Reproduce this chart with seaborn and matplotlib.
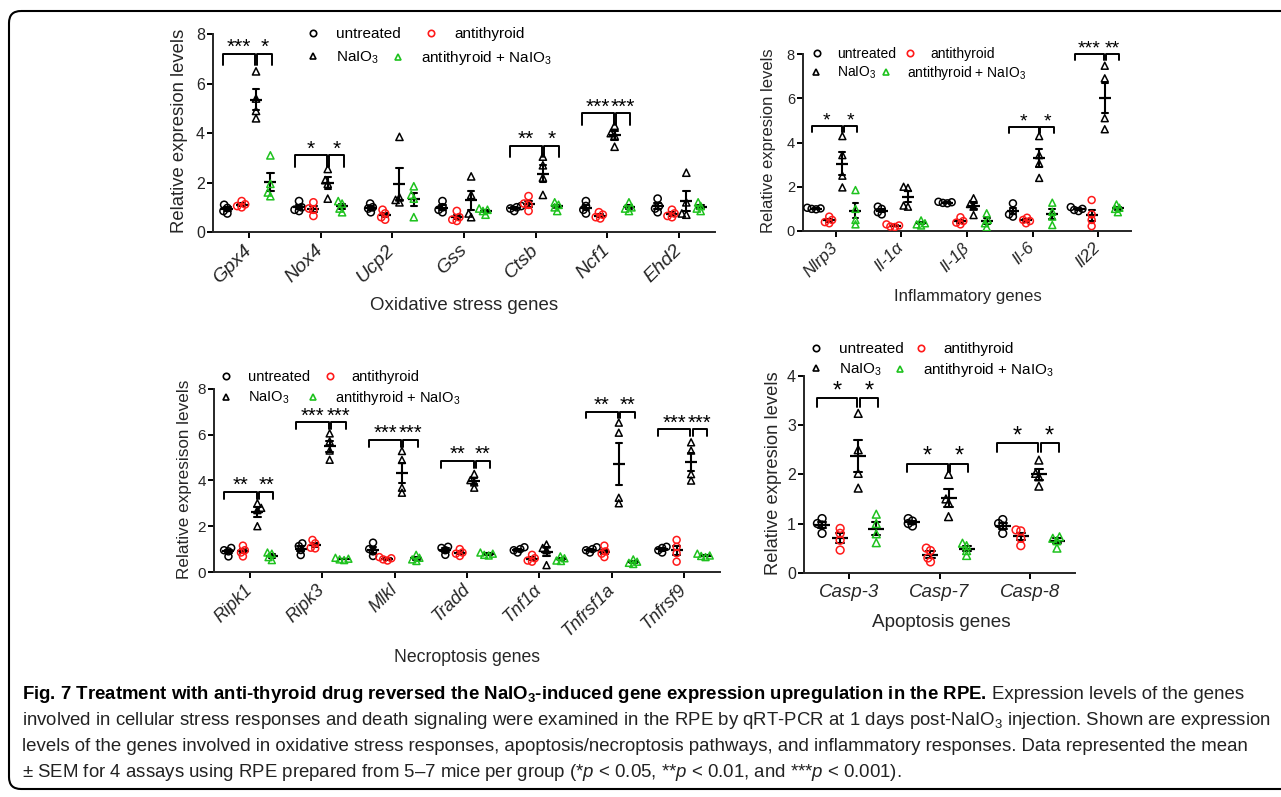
import numpy as np
import pandas as pd
import seaborn as sns
import matplotlib.pyplot as plt
from matplotlib.lines import Line2D
from matplotlib.patches import FancyBboxPatch
from matplotlib.transforms import Affine2D

# ===============================
# Data (4 assays per group)
# ===============================
groups = ['untreated', 'antithyroid', 'NaIO3', 'antithyroid + NaIO3']
group_labels = ['untreated', 'antithyroid', r'NaIO$_3$', r'antithyroid + NaIO$_3$']
group_colors = ['#000000', '#ff1a1a', '#000000', '#1ec21e']
group_markers = ['o', 'o', '^', '^']

# Oxidative stress genes
ox_genes = ['Gpx4', 'Nox4', 'Ucp2', 'Gss', 'Ctsb', 'Ncf1', 'Ehd2']
ox_untreated = [[1.10, 0.97, 0.85, 0.75], [1.25, 1.00, 0.90, 0.85], [1.15, 1.00, 0.95, 0.80],
                [1.25, 1.00, 0.90, 0.80], [1.00, 1.05, 0.95, 0.85], [1.25, 1.05, 0.90, 0.75],
                [1.35, 1.05, 0.95, 0.80]]
ox_antithyroid = [[1.25, 1.12, 1.00, 1.05], [1.20, 0.95, 0.90, 0.65], [0.90, 0.75, 0.60, 0.50],
                  [0.85, 0.60, 0.50, 0.45], [1.45, 1.15, 1.10, 0.85], [0.80, 0.70, 0.60, 0.55],
                  [0.90, 0.75, 0.65, 0.60]]
ox_naio3 = [[6.50, 5.40, 4.90, 4.60], [2.55, 2.10, 1.95, 1.35], [3.85, 1.40, 1.30, 1.20],
            [2.25, 1.50, 0.75, 0.60], [3.05, 2.70, 2.20, 1.50], [4.30, 4.00, 3.90, 3.45],
            [2.40, 1.20, 0.75, 0.70]]
ox_combo = [[3.10, 1.95, 1.60, 1.45], [1.25, 1.15, 0.95, 0.80], [1.85, 1.50, 1.35, 0.60],
            [0.95, 0.90, 0.85, 0.70], [1.20, 1.10, 1.00, 0.85], [1.20, 1.00, 0.95, 0.85],
            [1.20, 1.05, 0.95, 0.85]]
ox_sig = [(0, 7.2, '***', '*'), (1, 3.1, '*', '*'), (4, 3.5, '**', '*'), (5, 4.8, '***', '***')]

# Inflammatory genes
inf_genes = ['Nlrp3', 'Il-1α', 'Il-1β', 'Il-6', 'Il22']
inf_untreated = [[1.05, 1.02, 1.00, 0.98], [1.10, 1.00, 0.85, 0.75], [1.32, 1.30, 1.27, 1.25],
                 [1.25, 0.90, 0.75, 0.65], [1.08, 1.00, 0.95, 0.90]]
inf_antithyroid = [[0.65, 0.50, 0.40, 0.35], [0.30, 0.25, 0.20, 0.18], [0.62, 0.45, 0.38, 0.30],
                   [0.60, 0.50, 0.45, 0.35], [1.40, 0.75, 0.50, 0.22]]
inf_naio3 = [[4.29, 3.43, 2.50, 1.97], [2.00, 1.95, 1.15, 1.10], [1.48, 1.22, 1.10, 0.72],
             [4.29, 3.43, 3.05, 2.40], [7.47, 6.90, 5.10, 4.60]]
inf_combo = [[1.85, 1.00, 0.50, 0.30], [0.48, 0.35, 0.30, 0.25], [0.80, 0.50, 0.35, 0.17],
             [1.28, 0.87, 0.65, 0.27], [1.20, 1.05, 1.00, 0.85]]
inf_sig = [(0, 4.74, '*', '*'), (3, 4.70, '*', '*'), (4, 8.0, '***', '**')]

# Necroptosis genes
nec_genes = ['Ripk1', 'Ripk3', 'Mlkl', 'Tradd', 'Tnf1α', 'Tnfrsf1a', 'Tnfrsf9']
nec_untreated = [[1.05, 0.95, 0.90, 0.68], [1.25, 1.13, 0.96, 0.74], [1.28, 1.00, 0.90, 0.70],
                 [1.10, 1.05, 0.95, 0.75], [1.08, 1.00, 0.95, 0.85], [1.08, 1.00, 0.95, 0.85],
                 [1.10, 1.05, 0.95, 0.85]]
nec_antithyroid = [[1.15, 0.95, 0.85, 0.68], [1.40, 1.25, 1.06, 1.03], [0.65, 0.60, 0.55, 0.50],
                   [1.00, 0.85, 0.80, 0.70], [0.75, 0.60, 0.50, 0.45], [1.15, 0.90, 0.80, 0.65],
                   [1.40, 1.10, 0.82, 0.45]]
nec_naio3 = [[3.00, 2.80, 2.70, 2.00], [6.05, 5.70, 5.30, 4.90], [5.28, 4.89, 3.68, 3.46],
             [4.28, 4.01, 3.91, 3.68], [1.20, 1.05, 0.95, 0.30], [6.52, 6.08, 3.24, 3.00],
             [5.66, 5.30, 4.27, 3.99]]
nec_combo = [[0.85, 0.80, 0.65, 0.52], [0.62, 0.58, 0.55, 0.52], [0.75, 0.62, 0.55, 0.48],
             [0.85, 0.80, 0.75, 0.72], [0.68, 0.60, 0.50, 0.48], [0.55, 0.45, 0.40, 0.35],
             [0.80, 0.72, 0.70, 0.65]]
nec_sig = [(0, 3.5, '**', '**'), (1, 6.53, '***', '***'), (2, 5.76, '***', '***'),
           (3, 4.86, '**', '**'), (5, 7.0, '**', '**'), (6, 6.23, '***', '***')]

# Apoptosis genes
apo_genes = ['Casp-3', 'Casp-7', 'Casp-8']
apo_untreated = [[1.10, 1.00, 0.97, 0.80], [1.10, 1.05, 1.00, 0.95], [1.08, 1.00, 0.95, 0.80]]
apo_antithyroid = [[0.90, 0.80, 0.66, 0.46], [0.50, 0.45, 0.30, 0.22], [0.87, 0.85, 0.70, 0.55]]
apo_naio3 = [[3.24, 2.50, 2.02, 1.72], [2.00, 1.50, 1.42, 1.14], [2.29, 2.02, 1.95, 1.76]]
apo_combo = [[1.19, 1.00, 0.79, 0.61], [0.60, 0.55, 0.45, 0.35], [0.73, 0.70, 0.65, 0.50]]
apo_sig = [(0, 3.55, '*', '*'), (1, 2.22, '*', '*'), (2, 2.63, '*', '*')]

caption_bold = r'Fig. 7 Treatment with anti-thyroid drug reversed the NaIO$_\mathbf{3}$-induced gene expression upregulation in the RPE.'
caption_lines = [
    'Expression levels of the genes',
    r'involved in cellular stress responses and death signaling were examined in the RPE by qRT-PCR at 1 days post-NaIO$_3$ injection. Shown are expression',
    'levels of the genes involved in oxidative stress responses, apoptosis/necroptosis pathways, and inflammatory responses. Data represented the mean',
    r'± SEM for 4 assays using RPE prepared from 5–7 mice per group (*$p$ < 0.05, **$p$ < 0.01, and ***$p$ < 0.001).',
]

# ===============================
# Style
# ===============================
sns.set_style('ticks')
plt.rcParams['font.family'] = ['Liberation Sans', 'DejaVu Sans']
plt.rcParams['mathtext.fontset'] = 'custom'
plt.rcParams['mathtext.rm'] = 'Liberation Sans'
plt.rcParams['mathtext.it'] = 'Liberation Sans:italic'
plt.rcParams['mathtext.bf'] = 'Liberation Sans:bold'
plt.rcParams['axes.linewidth'] = 1.4
plt.rcParams['text.color'] = 'black'

W, H = 1281, 797
fig = plt.figure(figsize=(W / 100, H / 100), dpi=100)
fig.patch.set_facecolor('white')
# pixel coordinates measured from the top-left corner
px = Affine2D().scale(1 / W, -1 / H).translate(0, 1) + fig.transFigure

palette = dict(zip(groups, group_colors))
black = {g: 'black' for g in groups}
swarm_sets = []  # (collection, final marker size) to enlarge after the swarm is laid out


def long_df(genes, series):
    rows = []
    for grp, vals in zip(groups, series):
        for gene, pts in zip(genes, vals):
            for v in pts:
                rows.append((gene, grp, v))
    return pd.DataFrame(rows, columns=['gene', 'group', 'value'])


def draw_panel(p):
    x0, y0, x1, y1 = p['box']
    ax = fig.add_axes([x0 / W, 1 - y1 / H, (x1 - x0) / W, (y1 - y0) / H])
    genes = p['genes']
    df = long_df(genes, p['series'])

    # open circles / open triangles; swarm is computed with small markers so the
    # points overlap a little, like the original dot plot
    for grp_set, marker in ((groups[:2], 'o'), (groups[2:], '^')):
        n0 = len(ax.collections)
        sns.swarmplot(data=df[df['group'].isin(grp_set)], x='gene', y='value', hue='group',
                      order=genes, hue_order=groups, palette=palette, dodge=True,
                      marker=marker, size=p['ms'] * 0.4, linewidth=1.1, legend=False,
                      warn_thresh=1, ax=ax)
        for c in ax.collections[n0:]:
            fc = c.get_facecolors()
            if len(fc):
                c.set_edgecolors(fc)
                c.set_facecolors('none')
                swarm_sets.append((c, p['ms']))

    # mean +/- SEM
    sns.pointplot(data=df, x='gene', y='value', hue='group', order=genes, hue_order=groups,
                  palette=black, dodge=0.6, errorbar='se', capsize=0.09,
                  marker='_', linestyle='none', markersize=p['mean_ms'],
                  markeredgewidth=1.6, err_kws={'linewidth': 1.5}, legend=False, ax=ax)

    # significance brackets
    for i, y, lab1, lab2 in p['sig']:
        for (a, b), lab in (((i - 0.36, i + 0.09), lab1), ((i + 0.12, i + 0.32), lab2)):
            ax.plot([a, a, b, b], [y - p['leg'], y, y, y - p['leg']], color='black',
                    lw=1.4, clip_on=False)
            ax.annotate(lab, ((a + b) / 2, y), xytext=(0, 0.6), textcoords='offset points',
                        ha='center', va='baseline', fontsize=p['star_fs'],
                        annotation_clip=False)

    ax.set_xlim(-0.5, len(genes) - 0.5)
    ax.set_ylim(0, p['ymax'])
    ax.set_yticks(np.arange(0, p['ymax'] + 0.01, p['ystep']))
    ax.set_xticks(range(len(genes)))
    if p['rot']:
        ax.set_xticklabels(genes, rotation=p['rot'], ha='right', va='center',
                           rotation_mode='anchor', style='italic', fontsize=p['xtick_fs'])
    else:
        ax.set_xticklabels(genes, style='italic', fontsize=p['xtick_fs'])
    sns.despine(ax=ax)
    ax.tick_params(axis='both', width=1.4, length=4.3, color='black')
    ax.tick_params(axis='y', labelsize=p['ytick_fs'], pad=1.5)
    ax.tick_params(axis='x', pad=p['xpad'])

    ax.set_xlabel(p['xlabel'], fontsize=p['xlabel_fs'], va='center')
    ax.xaxis.set_label_coords(*p['xlabel_xy'], transform=px)
    ax.set_ylabel(p['ylabel'], fontsize=p['ylabel_fs'], va='center')
    ax.yaxis.set_label_coords(*p['ylabel_xy'], transform=px)

    # legend: one entry per slot, as laid out in the figure
    fs_px = p['leg_fs'] * 100 / 72
    entries = list(zip(group_labels, group_colors, group_markers, p['leg_xy']))
    for k, (lab, col, mk, (lx, ly)) in enumerate(entries):
        h = Line2D([], [], ls='none', marker=mk, mfc='none', mec=col, mew=1.2, ms=4.6)
        leg = ax.legend([h], [lab], loc='center left', bbox_to_anchor=(lx - 0.3 * fs_px, ly),
                        bbox_transform=px, frameon=False, fontsize=p['leg_fs'],
                        handlelength=0.6, handletextpad=1.2, borderpad=0, borderaxespad=0)
        if k < len(entries) - 1:
            ax.add_artist(leg)
    return ax


panels = [
    dict(genes=ox_genes, series=[ox_untreated, ox_antithyroid, ox_naio3, ox_combo], sig=ox_sig,
         box=(213, 34.3, 715, 232), ymax=8, ystep=2, rot=45, leg=0.45,
         xlabel='Oxidative stress genes', xlabel_xy=(464, 306), xlabel_fs=13.4,
         ylabel='Relative expresion levels', ylabel_xy=(180, 131), ylabel_fs=13.3,
         xtick_fs=14, ytick_fs=11.5, xpad=7, ms=5.2, mean_ms=9, star_fs=15, leg_fs=11,
         leg_xy=[(313, 34.3), (431, 34.3), (313, 58), (398, 58)]),
    dict(genes=inf_genes, series=[inf_untreated, inf_antithyroid, inf_naio3, inf_combo], sig=inf_sig,
         box=(803, 54, 1131, 231), ymax=8, ystep=2, rot=45, leg=0.25,
         xlabel='Inflammatory genes', xlabel_xy=(968, 297), xlabel_fs=12.1,
         ylabel='Relative expresion levels', ylabel_xy=(768, 141), ylabel_fs=12,
         xtick_fs=12.4, ytick_fs=10.5, xpad=6, ms=5, mean_ms=9, star_fs=14, leg_fs=10,
         leg_xy=[(816.7, 54), (910, 54), (816, 72.7), (885.7, 72.7)]),
    dict(genes=nec_genes, series=[nec_untreated, nec_antithyroid, nec_naio3, nec_combo], sig=nec_sig,
         box=(214, 388.7, 720, 572), ymax=8, ystep=2, rot=45, leg=0.3,
         xlabel='Necroptosis genes', xlabel_xy=(467, 658), xlabel_fs=12.7,
         ylabel='Relative expresison levels', ylabel_xy=(185, 479), ylabel_fs=12.3,
         xtick_fs=13, ytick_fs=11, xpad=6.5, ms=5, mean_ms=9, star_fs=14.5, leg_fs=10.5,
         leg_xy=[(225.7, 376.7), (330, 376.7), (225.7, 398.3), (312.7, 398.3)]),
    dict(genes=apo_genes, series=[apo_untreated, apo_antithyroid, apo_naio3, apo_combo], sig=apo_sig,
         box=(804, 376, 1075, 572.7), ymax=4, ystep=1, rot=0, leg=0.18,
         xlabel='Apoptosis genes', xlabel_xy=(941, 623), xlabel_fs=13.6,
         ylabel='Relative expresion levels', ylabel_xy=(773, 473), ylabel_fs=13.2,
         xtick_fs=13.5, ytick_fs=11.5, xpad=3.5, ms=5.6, mean_ms=11, star_fs=17, leg_fs=11,
         leg_xy=[(815.7, 349.3), (920.7, 349.3), (815.7, 370), (900, 370)]),
]

for p in panels:
    draw_panel(p)

# lay the swarms out once, then freeze positions and use the full marker size
fig.canvas.draw()
for c, ms in swarm_sets:
    if 'draw' in c.__dict__:
        del c.draw
    c.set_sizes([ms ** 2])

# ===============================
# Caption
# ===============================
renderer = fig.canvas.get_renderer()
cap_fs = 12
probe = fig.text(22, 725, caption_lines[1], transform=px, fontsize=cap_fs, va='baseline',
                 color='#222222')
cap_fs = cap_fs * 1250 / probe.get_window_extent(renderer).width
probe.set_fontsize(cap_fs)

bold = fig.text(22, 699, caption_bold, transform=px, fontsize=cap_fs, fontweight='bold',
                va='baseline', color='black')
bx1 = bold.get_window_extent(renderer).x1
fig.text(bx1 + 5, 699, caption_lines[0], transform=px, fontsize=cap_fs, va='baseline',
         color='#222222')
fig.text(22, 751, caption_lines[2], transform=px, fontsize=cap_fs, va='baseline', color='#222222')
fig.text(22, 777, caption_lines[3], transform=px, fontsize=cap_fs, va='baseline', color='#222222')

# rounded frame around the whole figure
fig.add_artist(FancyBboxPatch((9, 11), 1300, 778, boxstyle='round,pad=0,rounding_size=12',
                              transform=px, fill=False, lw=1.5, ec='black'))

fig.savefig('out.png', dpi=100)
